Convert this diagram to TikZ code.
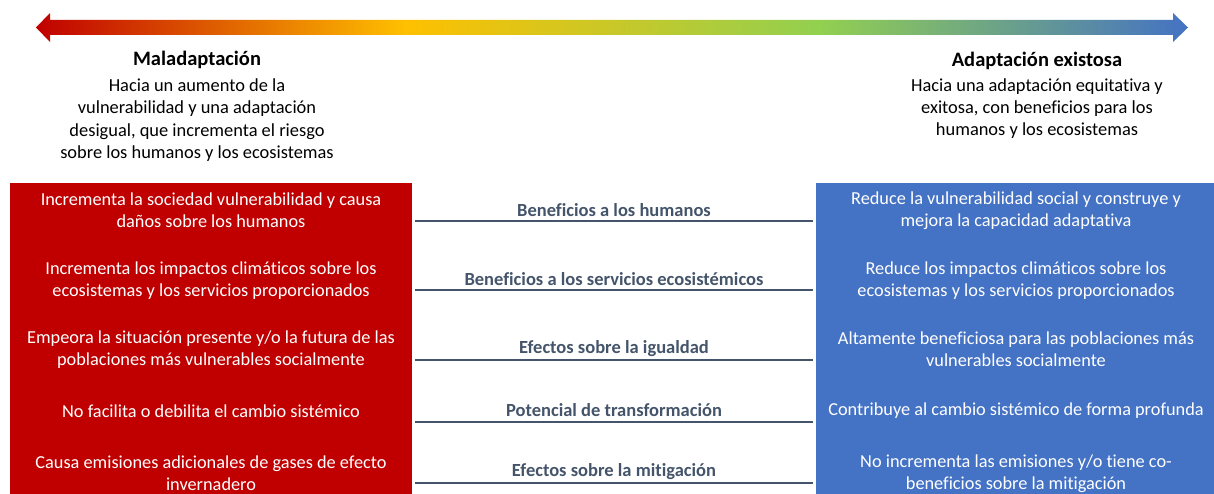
\documentclass[tikz,border=0pt]{standalone}
\usepackage{fontspec}
\setmainfont{Carlito}[Ligatures=NoCommon]
\definecolor{cred}{HTML}{C00000}
\definecolor{cblue}{HTML}{4472C4}
\definecolor{cslate}{HTML}{44546A}
\definecolor{gA}{HTML}{C00000}
\definecolor{gB}{HTML}{FFC000}
\definecolor{gC}{HTML}{92D050}
\definecolor{gD}{HTML}{4472C4}
\pgfdeclarehorizontalshading{arrowgrad}{100bp}{color(0bp)=(gA); color(25bp)=(gA); color(41bp)=(gB); color(59bp)=(gC); color(75bp)=(gD); color(100bp)=(gD)}
\tikzset{
  boxtext/.style={text=white, align=center, font=\fontsize{18.3}{22}\selectfont, inner sep=0pt},
  headtitle/.style={font=\bfseries\fontsize{20.5}{22}\selectfont, inner sep=0pt},
  headtext/.style={align=center, font=\fontsize{18.4}{22.3}\selectfont, inner sep=0pt},
  midlabel/.style={text=cslate, font=\bfseries\fontsize{18.5}{22}\selectfont, inner sep=0pt},
  underline/.style={draw=cslate, line width=1.6pt}
}
\begin{document}
\begin{tikzpicture}[x=1pt,y=-1pt]
\useasboundingbox (0,0) rectangle (1214,494);
% gradient arrow
\path[shading=arrowgrad] (36,27.5) -- (50,13) -- (50,19.8) -- (1173,19.8) -- (1173,13) -- (1188,27.5) -- (1173,42) -- (1173,35) -- (50,35) -- (50,42) -- cycle;
% headers
\node[headtitle] (mtitle) at (197,60) {Maladaptación};
\node[headtext] (mtext) at (197,120) {Hacia un aumento de la\\vulnerabilidad y una adaptación\\desigual, que incrementa el riesgo\\sobre los humanos y los ecosistemas};
\node[headtitle] (atitle) at (1037,61) {Adaptación existosa};
\node[headtext] (atext) at (1037,108.5) {Hacia una adaptación equitativa y\\exitosa, con beneficios para los\\humanos y los ecosistemas};
% boxes
\fill[cred] (10,183) rectangle (412,494);
\fill[cblue] (816,183) rectangle (1214,494);
% left texts
\node[boxtext] (l1) at (211,210.5) {Incrementa la sociedad vulnerabilidad y causa\\daños sobre los humanos};
\node[boxtext] (l2) at (211,280.5) {Incrementa los impactos climáticos sobre los\\ecosistemas y los servicios proporcionados};
\node[boxtext] (l3) at (211,349.5) {Empeora la situación presente y/o la futura de las\\poblaciones más vulnerables socialmente};
\node[boxtext] (l4) at (211,411) {No facilita o debilita el cambio sistémico};
\node[boxtext] (l5) at (211,473.5) {Causa emisiones adicionales de gases de efecto\\invernadero};
% right texts
\node[boxtext] (r1) at (1016,210.5) {Reduce la vulnerabilidad social y construye y\\mejora la capacidad adaptativa};
\node[boxtext] (r2) at (1016,280.5) {Reduce los impactos climáticos sobre los\\ecosistemas y los servicios proporcionados};
\node[boxtext] (r3) at (1016,349.5) {Altamente beneficiosa para las poblaciones más\\vulnerables socialmente};
\node[boxtext] (r4) at (1016,411) {Contribuye al cambio sistémico de forma profunda};
\node[boxtext] (r5) at (1016,473.5) {No incrementa las emisiones y/o tiene co-\\beneficios sobre la mitigación};
% middle labels
\node[midlabel] (m1) at (614,210) {Beneficios a los humanos};
\node[midlabel] (m2) at (614,279) {Beneficios a los servicios ecosistémicos};
\node[midlabel] (m3) at (614,349) {Efectos sobre la igualdad};
\node[midlabel] (m4) at (614,410) {Potencial de transformación};
\node[midlabel] (m5) at (614,472) {Efectos sobre la mitigación};
\foreach \i/\y in {1/221,2/290,3/360,4/422,5/483}{
  \coordinate (u\i a) at (415,\y);
  \coordinate (u\i b) at (813,\y);
  \draw[underline] (u\i a) -- (u\i b);
}
\end{tikzpicture}
\end{document}
